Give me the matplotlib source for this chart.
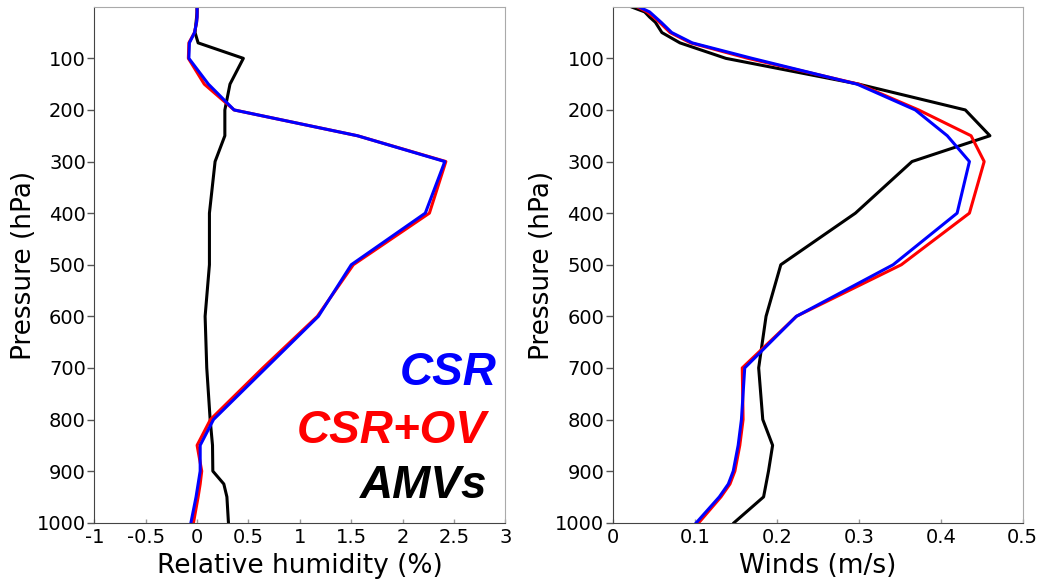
import matplotlib.pyplot as plt
from matplotlib.ticker import FuncFormatter

plt.rcParams['font.family'] = ['DejaVu Sans']

# pressure levels (hPa)
levels = [1, 10, 20, 30, 50, 70, 100, 150, 200, 250, 300, 400, 500,
          600, 700, 800, 850, 900, 925, 950, 1000]

# relative humidity impact (%)
rh_csr = [0.0, 0.0, 0.0, -0.005, -0.025, -0.075, -0.08, 0.11, 0.36, 1.56, 2.41,
          2.22, 1.50, 1.18, 0.67, 0.16, 0.03, 0.03, 0.01, -0.01, -0.06]
rh_csr_ov = [0.0, 0.0, 0.0, -0.005, -0.025, -0.08, -0.085, 0.07, 0.36, 1.56, 2.42,
             2.26, 1.52, 1.17, 0.64, 0.13, 0.0, 0.045, 0.03, 0.01, -0.035]
rh_amv = [0.0, 0.0, -0.005, -0.01, -0.02, 0.01, 0.45, 0.32, 0.27, 0.27, 0.175,
          0.12, 0.12, 0.078, 0.094, 0.127, 0.15, 0.153, 0.26, 0.29, 0.305]

# wind impact (m/s)
wind_csr = [0.033, 0.045, 0.052, 0.059, 0.072, 0.097, 0.17, 0.298, 0.369, 0.408, 0.435,
            0.42, 0.342, 0.224, 0.161, 0.157, 0.153, 0.147, 0.141, 0.13, 0.102]
wind_csr_ov = [0.031, 0.042, 0.05, 0.057, 0.07, 0.095, 0.165, 0.30, 0.373, 0.437, 0.453,
               0.435, 0.352, 0.224, 0.158, 0.159, 0.155, 0.149, 0.143, 0.132, 0.105]
wind_amv = [0.024, 0.039, 0.045, 0.052, 0.06, 0.082, 0.138, 0.30, 0.43, 0.46, 0.365,
            0.296, 0.205, 0.187, 0.178, 0.183, 0.195, 0.19, 0.187, 0.184, 0.148]

rh_ticks = [-1, -0.5, 0, 0.5, 1, 1.5, 2, 2.5, 3]
wind_ticks = [0, 0.1, 0.2, 0.3, 0.4, 0.5]
p_ticks = [100, 200, 300, 400, 500, 600, 700, 800, 900, 1000]

fig = plt.figure(figsize=(10.42, 5.82), dpi=100)
ax1 = fig.add_axes([0.0905, 0.1019, 0.3946, 0.8856])
ax2 = fig.add_axes([0.588, 0.1019, 0.3935, 0.8856])

fmt = FuncFormatter(lambda v, pos: ('%g' % v))

def style_axis(ax, xlim, xticks, xlabel):
    ax.set_xlim(xlim)
    ax.set_ylim(1000, 1)
    ax.set_xticks(xticks)
    ax.set_yticks(p_ticks)
    ax.xaxis.set_major_formatter(fmt)
    ax.set_xlabel(xlabel, fontsize=19, labelpad=4)
    ax.set_ylabel('Pressure (hPa)', fontsize=19, labelpad=0)
    ax.tick_params(axis='y', direction='out', length=5, width=1, color='#555555',
                   labelsize=14, pad=1)
    ax.tick_params(axis='x', direction='in', length=3, width=1, color='#999999',
                   labelsize=14, pad=4)
    for s in ['top', 'right']:
        ax.spines[s].set_color('#aaaaaa')
    for s in ['left', 'bottom']:
        ax.spines[s].set_color('#444444')

ax1.plot(rh_amv, levels, color='black', lw=2.2)
ax1.plot(rh_csr_ov, levels, color='red', lw=2.2)
ax1.plot(rh_csr, levels, color='blue', lw=2.2)
style_axis(ax1, (-1, 3), rh_ticks, 'Relative humidity (%)')

ax2.plot(wind_amv, levels, color='black', lw=2.2)
ax2.plot(wind_csr_ov, levels, color='red', lw=2.2)
ax2.plot(wind_csr, levels, color='blue', lw=2.2)
style_axis(ax2, (0, 0.5), wind_ticks, 'Winds (m/s)')

# experiment names written inside the left panel
for name, col, xf, yf in [('CSR', 'blue', 0.979, 0.267),
                          ('CSR+OV', 'red', 0.955, 0.155),
                          ('AMVs', 'black', 0.957, 0.048)]:
    ax1.text(xf, yf, name, color=col, transform=ax1.transAxes, ha='right',
             va='baseline', fontsize=33, fontweight='bold', fontstyle='italic',
             family='Liberation Sans')

fig.savefig('out.png', dpi=100)
